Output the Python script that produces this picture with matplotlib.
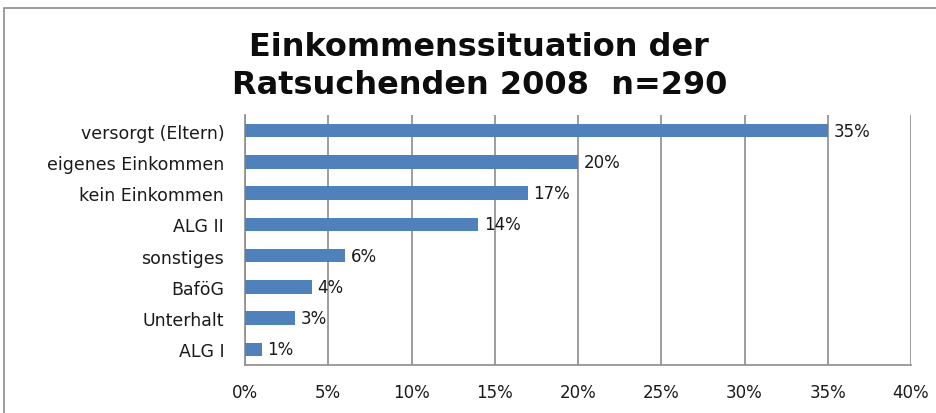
import matplotlib
matplotlib.use("Agg")
import matplotlib.pyplot as plt
from matplotlib.patches import Rectangle
from matplotlib.ticker import MultipleLocator, FuncFormatter

categories = ["versorgt (Eltern)", "eigenes Einkommen", "kein Einkommen", "ALG II",
              "sonstiges", "BaföG", "Unterhalt", "ALG I"]
values = [35, 20, 17, 14, 6, 4, 3, 1]
title_lines = ["Einkommenssituation der", "Ratsuchenden 2008  n=290"]

W, H = 936, 414
fig = plt.figure(figsize=(W / 100, H / 100), dpi=100)
plt.rcParams['font.family'] = ['DejaVu Sans']

# outer chart border
fig.patches.append(Rectangle((4 / W, -0.1), 1.2, 1 - 9 / H + 0.1, transform=fig.transFigure,
                             fill=False, edgecolor="#8c8c8c", linewidth=1.2))

ax = fig.add_axes([245 / W, 1 - 366 / H, (911 - 245) / W, (366 - 116) / H])
y = list(range(len(categories)))
ax.barh(y, values, height=0.43, color="#4F81BD", zorder=3)
ax.set_ylim(len(categories) - 0.5, -0.5)
ax.set_xlim(0, 40)
ax.xaxis.set_major_locator(MultipleLocator(5))
ax.xaxis.set_major_formatter(FuncFormatter(lambda v, p: f"{int(v)}%"))
ax.set_yticks(y)
ax.set_yticklabels(categories, fontsize=12.5, color="#1a1a1a")
ax.tick_params(axis="y", length=0, pad=15)
ax.tick_params(axis="x", length=0, pad=13, labelsize=12, labelcolor="#1a1a1a")
ax.grid(axis="x", color="#8c8c8c", linewidth=1.2, zorder=0)
for s in ["top", "right"]:
    ax.spines[s].set_visible(False)
for s in ["left", "bottom"]:
    ax.spines[s].set_color("#8c8c8c")
    ax.spines[s].set_linewidth(1.2)

for yi, v in zip(y, values):
    ax.annotate(f"{v}%", (v, yi), xytext=(4, 0), textcoords="offset points",
                va="center", ha="left", fontsize=12, color="#1a1a1a", zorder=4)

fig.text(479 / W, 1 - 47 / H, title_lines[0], ha="center", va="center",
         fontsize=23, fontweight="bold", color="#0d0d0d")
fig.text(480 / W, 1 - 86 / H, title_lines[1], ha="center", va="center",
         fontsize=23, fontweight="bold", color="#0d0d0d")

fig.savefig("out.png", dpi=100)
